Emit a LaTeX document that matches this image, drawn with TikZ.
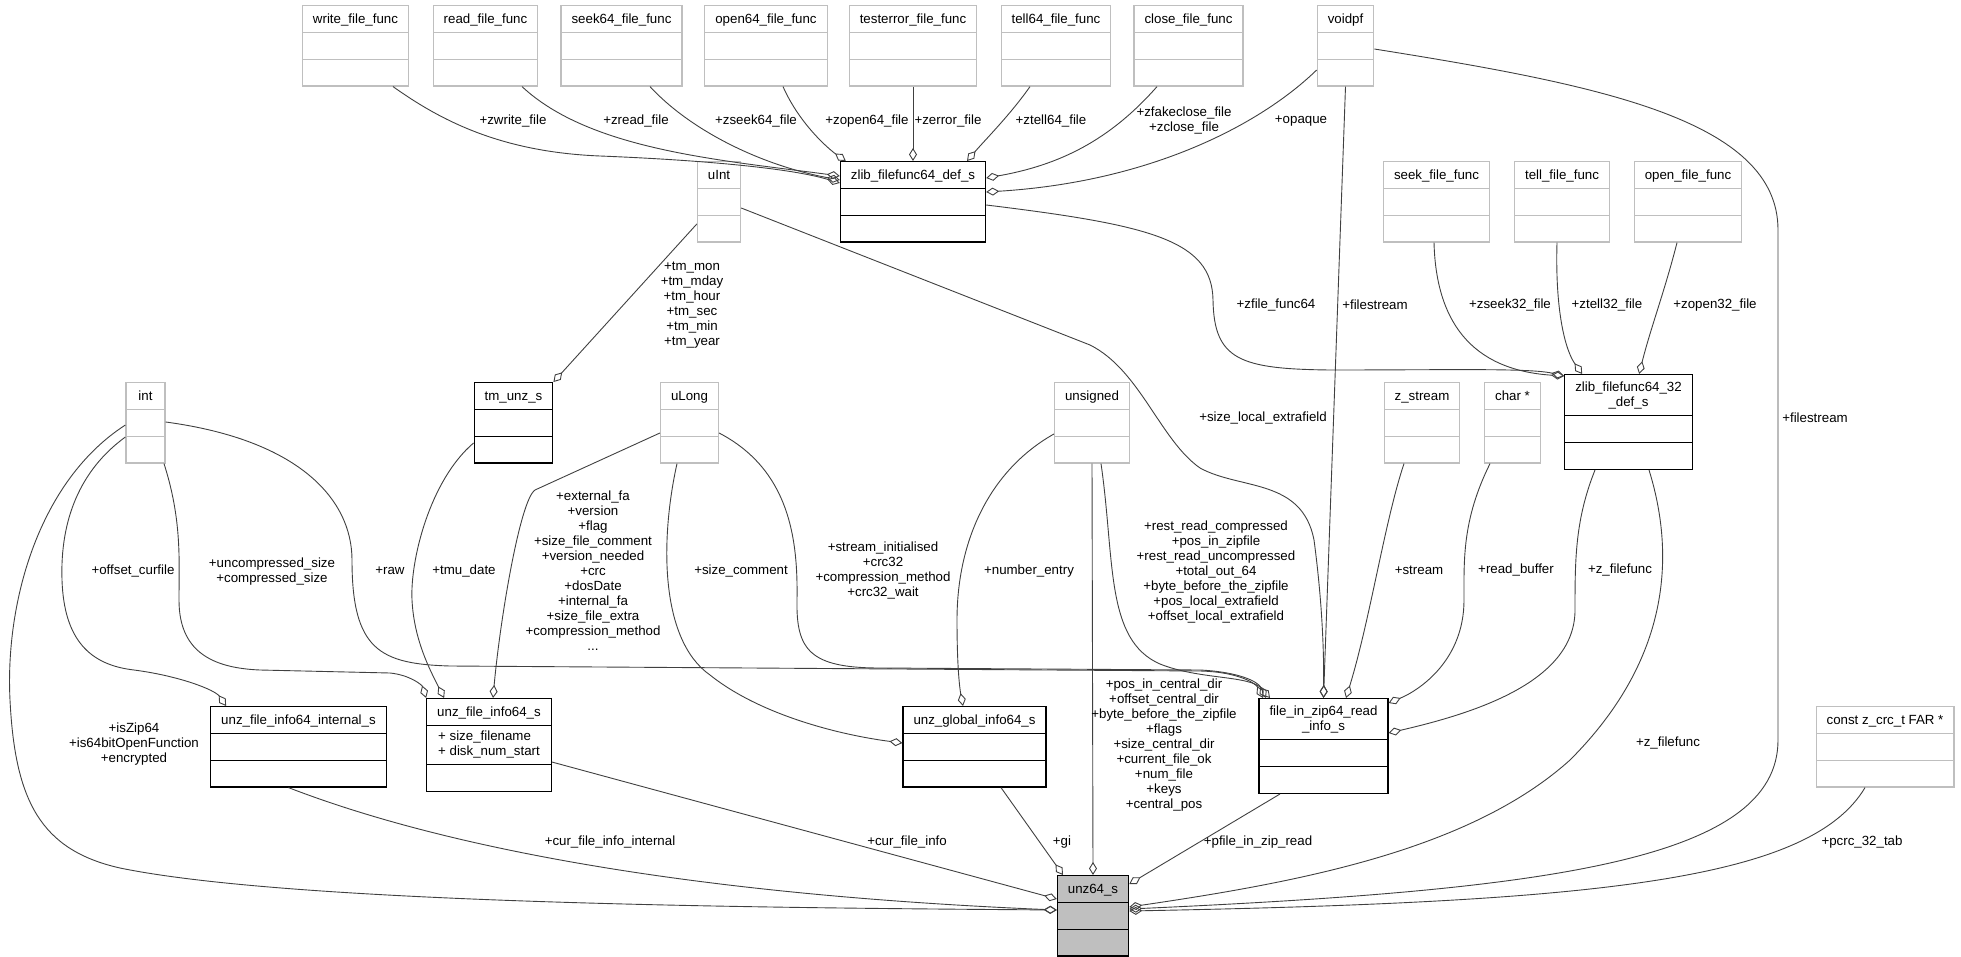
\documentclass[tikz,border=0pt]{standalone}
\usepackage{fontspec}
\setmainfont{Liberation Sans}
\usetikzlibrary{arrows.meta}
\usetikzlibrary{shapes.multipart}
\definecolor{boxgrey}{HTML}{BFBFBF}
\definecolor{edgegrey}{HTML}{404040}
\newcommand{\rowstrut}{\rule[-8.3pt]{0pt}{25.6pt}}
\newcommand{\emptyrows}{\nodepart{two}\rowstrut\nodepart{three}\rowstrut}

\begin{document}
\begin{tikzpicture}[x=1pt,y=-1pt,
  cls/.style={rectangle split,rectangle split parts=3,anchor=north,line width=1.2pt,inner xsep=10.5pt,inner ysep=0pt,align=center,font=\fontsize{13.3}{15}\selectfont},
  ucls/.style={cls,draw=boxgrey},
  dcls/.style={cls,draw=black},
  lbl/.style={inner sep=0pt,align=center,font=\fontsize{13.3}{15}\selectfont},
  agg/.style={draw=edgegrey,line width=0.9pt,-{Diamond[open,length=13pt,width=8pt]}}]
\useasboundingbox (0,0) rectangle (1961,957);

% function pointer types
\node[ucls] (wfunc) at (355.5,5) {\rowstrut write\_file\_func\emptyrows};
\node[ucls] (rfunc) at (485.5,5) {\rowstrut read\_file\_func\emptyrows};
\node[ucls] (s64func) at (621.5,5) {\rowstrut seek64\_file\_func\emptyrows};
\node[ucls] (o64func) at (766,5) {\rowstrut open64\_file\_func\emptyrows};
\node[ucls] (efunc) at (913,5) {\rowstrut testerror\_file\_func\emptyrows};
\node[ucls] (t64func) at (1056,5) {\rowstrut tell64\_file\_func\emptyrows};
\node[ucls] (cfunc) at (1188.5,5) {\rowstrut close\_file\_func\emptyrows};
\node[ucls] (voidpf) at (1345.5,5) {\rowstrut voidpf\emptyrows};

\node[ucls] (uint) at (719,161) {\rowstrut uInt\emptyrows};
\node[dcls] (zff64) at (913,161) {\rowstrut zlib\_filefunc64\_def\_s\emptyrows};
\node[ucls] (sfunc) at (1436.5,161) {\rowstrut seek\_file\_func\emptyrows};
\node[ucls] (tfunc) at (1562,161) {\rowstrut tell\_file\_func\emptyrows};
\node[ucls] (ofunc) at (1688,161) {\rowstrut open\_file\_func\emptyrows};

\node[ucls,minimum width=39pt] (int) at (145.5,382) {\rowstrut int\emptyrows};
\node[dcls] (tmunz) at (513.5,382) {\rowstrut tm\_unz\_s\emptyrows};
\node[ucls] (ulong) at (689.5,382) {\rowstrut uLong\emptyrows};
\node[ucls] (unsgn) at (1092,382) {\rowstrut unsigned\emptyrows};
\node[ucls] (zstream) at (1422,382) {\rowstrut z\_stream\emptyrows};
\node[ucls] (charp) at (1512.5,382) {\rowstrut char *\emptyrows};
\node[dcls] (zff32) at (1628.5,374) {\rule{0pt}{16pt}zlib\_filefunc64\_32\\\_def\_s\rule[-9pt]{0pt}{9pt}\emptyrows};

\node[dcls] (ufiint) at (298.5,706) {\rowstrut unz\_file\_info64\_internal\_s\emptyrows};
\node[dcls] (ufi) at (489,698) {\rowstrut unz\_file\_info64\_s\nodepart{two}\rule[-15.7pt]{0pt}{38pt}\begin{tabular}[c]{@{}l@{}}+ size\_filename\\+ disk\_num\_start\end{tabular}\nodepart{three}\rowstrut};
\node[dcls] (ugi) at (974.5,706) {\rowstrut unz\_global\_info64\_s\emptyrows};
\node[dcls] (fizr) at (1323.5,698) {\rule{0pt}{16pt}file\_in\_zip64\_read\\\_info\_s\rule[-9pt]{0pt}{9pt}\emptyrows};
\node[ucls] (crctab) at (1885,706) {\rowstrut const z\_crc\_t FAR *\emptyrows};

\node[dcls,fill=boxgrey] (unz) at (1093,875) {\rowstrut unz64\_s\emptyrows};

% members of zlib_filefunc64_def_s
\draw[agg] ([xshift=37.5]wfunc.south) .. controls (440,120) and (500,152) .. (600,156) .. controls (700,160) and (790,168) .. ([yshift=-22]zff64.north west);
\draw[agg] ([xshift=36.5]rfunc.south) .. controls (590,150) and (720,160) .. ([yshift=-15]zff64.north west);
\draw[agg] ([xshift=28.5]s64func.south) .. controls (690,130) and (760,165) .. ([yshift=-19]zff64.north west);
\draw[agg] ([xshift=17]o64func.south) .. controls (800,125) and (830,150) .. ([xshift=6]zff64.north west);
\draw[agg] (efunc.south) -- (zff64.north);
\draw[agg] ([xshift=-26]t64func.south) .. controls (1010,115) and (985,140) .. ([xshift=54]zff64.north);
\draw[agg] ([xshift=-31.5]cfunc.south) .. controls (1110,140) and (1060,165) .. ([yshift=-17]zff64.north east);
\draw[agg] ([yshift=-65]voidpf.north west) .. controls (1260,125) and (1150,182) .. ([yshift=-31]zff64.north east);

% members of zlib_filefunc64_32_def_s
\draw[agg] ([yshift=-44]zff64.north east) .. controls (1150,225) and (1212,240) .. (1213,300) .. controls (1214,360) and (1240,369) .. (1330,370) .. controls (1450,370) and (1530,368) .. ([yshift=-2]zff32.north west);
\draw[agg] ([xshift=-2.5]sfunc.south) .. controls (1436,320) and (1470,370) .. ([yshift=-2]zff32.north west);
\draw[agg] ([xshift=-5]tfunc.south) .. controls (1555,310) and (1565,350) .. ([xshift=18]zff32.north west);
\draw[agg] ([xshift=-11]ofunc.south) .. controls (1665,290) and (1650,330) .. ([xshift=75]zff32.north west);

\draw[agg] ([yshift=-63]uint.north west) -- (tmunz.north east);

% members of file_in_zip64_read_info_s
\draw[agg] ([yshift=-47]uint.north east) -- (1090,345) .. controls (1140,370) and (1160,440) .. (1200,468) .. controls (1240,490) and (1302,478) .. (1314,540) .. controls (1322,600) and (1324,650) .. (fizr.north);
\draw[agg] (voidpf.south) -- (fizr.north);
\draw[agg] ([xshift=-18]zstream.south) .. controls (1385,520) and (1370,620) .. ([xshift=22.5]fizr.north);
\draw[agg] ([xshift=-22.5]charp.south) .. controls (1462,520) and (1464,560) .. (1464,600) .. controls (1464,660) and (1420,690) .. ([yshift=-5]fizr.north east);
\draw[agg] ([xshift=-33.5]zff32.south) .. controls (1575,520) and (1575,560) .. (1575,610) .. controls (1575,680) and (1480,712) .. ([yshift=-35]fizr.north east);
\draw[agg] ([xshift=9]unsgn.south) .. controls (1115,560) and (1105,640) .. (1160,664) .. controls (1200,680) and (1250,675) .. ([xshift=-53.5]fizr.north);
\draw[agg] ([yshift=-51]ulong.north east) .. controls (790,470) and (798,540) .. (797,600) .. controls (796,650) and (810,668) .. (880,668) -- (1200,670) .. controls (1240,672) and (1258,682) .. ([xshift=-57.5]fizr.north);
\draw[agg] ([yshift=-40]int.north east) .. controls (300,440) and (352,500) .. (352,560) .. controls (352,650) and (380,664) .. (450,666) -- (1200,671) .. controls (1240,672) and (1256,684) .. ([xshift=-60.5]fizr.north);

% members of unz_file_info64_s, unz_file_info64_internal_s, unz_global_info64_s
\draw[agg] ([xshift=18.5]int.south) .. controls (182,520) and (179,560) .. (179,600) .. controls (179,650) and (210,668) .. (260,670) -- (390,673) .. controls (410,675) and (422,685) .. (ufi.north west);
\draw[agg] ([yshift=-55]int.north west) .. controls (80,470) and (60,520) .. (62,580) .. controls (64,640) and (90,665) .. (134,670) .. controls (180,676) and (215,690) .. ([xshift=16]ufiint.north west);
\draw[agg] ([yshift=-61]tmunz.north west) .. controls (430,480) and (410,560) .. (412,600) .. controls (414,640) and (430,670) .. ([xshift=18]ufi.north west);
\draw[agg] ([yshift=-51]ulong.north west) -- (535,490) .. controls (520,500) and (500,620) .. ([xshift=4]ufi.north);
\draw[agg] ([xshift=-12.5]ulong.south) .. controls (660,540) and (660,640) .. (710,675) .. controls (760,715) and (840,735) .. ([yshift=-37]ugi.north west);
\draw[agg] ([yshift=-52]unsgn.north west) .. controls (990,470) and (957,540) .. (957,620) .. controls (957,670) and (960,690) .. ([xshift=-11.5]ugi.north);

% members of unz64_s
\draw[agg] ([yshift=-43]int.north west) .. controls (40,480) and (5,600) .. (10,700) .. controls (15,800) and (40,850) .. (120,868) .. controls (300,905) and (800,908) .. ([yshift=-35]unz.north west);
\draw[agg] ([xshift=-10]ufiint.south) .. controls (450,850) and (700,895) .. ([yshift=-35]unz.north west);
\draw[agg] ([yshift=-64]ufi.north east) -- ([yshift=-24]unz.north west);
\draw[agg] ([xshift=26.5]ugi.south) -- ([xshift=-30]unz.north);
\draw[agg] (unsgn.south) -- (unz.north);
\draw[agg] ([xshift=-43.5]fizr.south) -- ([yshift=-9]unz.north east);
\draw[agg] ([xshift=20.5]zff32.south) .. controls (1680,570) and (1660,670) .. (1570,760) .. controls (1470,850) and (1300,882) .. ([yshift=-32]unz.north east);
\draw[agg] ([yshift=-44]voidpf.north east) .. controls (1600,85) and (1778,120) .. (1778,230) -- (1778,740) .. controls (1778,860) and (1550,890) .. ([yshift=-34]unz.north east);
\draw[agg] ([xshift=-20]crctab.south) .. controls (1810,880) and (1600,902) .. ([yshift=-36]unz.north east);

% labels
\node[lbl] (lzwrite) at (513,121) {+zwrite\_file};
\node[lbl] (lzread) at (636,121) {+zread\_file};
\node[lbl] (lzseek64) at (756,121) {+zseek64\_file};
\node[lbl] (lzopen64) at (867,121) {+zopen64\_file};
\node[lbl] (lzerror) at (948,121) {+zerror\_file};
\node[lbl] (lztell64) at (1051,121) {+ztell64\_file};
\node[lbl] (lzclose) at (1184,120.5) {+zfakeclose\_file\\+zclose\_file};
\node[lbl] (lopaque) at (1301,121) {+opaque};
\node[lbl] (ltm) at (692,305.5) {+tm\_mon\\+tm\_mday\\+tm\_hour\\+tm\_sec\\+tm\_min\\+tm\_year};
\node[lbl] (lzff64) at (1276,305) {+zfile\_func64};
\node[lbl] (lfstream) at (1375,305) {+filestream};
\node[lbl] (lzseek32) at (1510,305) {+zseek32\_file};
\node[lbl] (lztell32) at (1607,305) {+ztell32\_file};
\node[lbl] (lzopen32) at (1715,305) {+zopen32\_file};
\node[lbl] (lfstream2) at (1815,418) {+filestream};
\node[lbl] (lsizelocal) at (1263,418) {+size\_local\_extrafield};
\node[lbl] (loffset) at (133,571) {+offset\_curfile};
\node[lbl] (lsizes) at (272,571.5) {+uncompressed\_size\\+compressed\_size};
\node[lbl] (lraw) at (390,571) {+raw};
\node[lbl] (ltmu) at (464,571) {+tmu\_date};
\node[lbl] (lfields) at (593,571) {+external\_fa\\+version\\+flag\\+size\_file\_comment\\+version\_needed\\+crc\\+dosDate\\+internal\_fa\\+size\_file\_extra\\+compression\_method\\...};
\node[lbl] (lsizecomment) at (741,571) {+size\_comment};
\node[lbl] (lstreaminit) at (883,570.5) {+stream\_initialised\\+crc32\\+compression\_method\\+crc32\_wait};
\node[lbl] (lnumentry) at (1029,571) {+number\_entry};
\node[lbl] (lrest) at (1216,572) {+rest\_read\_compressed\\+pos\_in\_zipfile\\+rest\_read\_uncompressed\\+total\_out\_64\\+byte\_before\_the\_zipfile\\+pos\_local\_extrafield\\+offset\_local\_extrafield};
\node[lbl] (lstream) at (1419,570) {+stream};
\node[lbl] (lreadbuf) at (1516,570) {+read\_buffer};
\node[lbl] (lzfilefunc) at (1620,570) {+z\_filefunc};
\node[lbl] (lcentral) at (1164,745) {+pos\_in\_central\_dir\\+offset\_central\_dir\\+byte\_before\_the\_zipfile\\+flags\\+size\_central\_dir\\+current\_file\_ok\\+num\_file\\+keys\\+central\_pos};
\node[lbl] (lzip64) at (134,744) {+isZip64\\+is64bitOpenFunction\\+encrypted};
\node[lbl] (lzfilefunc2) at (1668,743) {+z\_filefunc};
\node[lbl] (lcurint) at (610,842) {+cur\_file\_info\_internal};
\node[lbl] (lcurinfo) at (907,842) {+cur\_file\_info};
\node[lbl] (lgi) at (1062,842) {+gi};
\node[lbl] (lpfile) at (1258,842) {+pfile\_in\_zip\_read};
\node[lbl] (lpcrc) at (1862,842) {+pcrc\_32\_tab};
\end{tikzpicture}
\end{document}
